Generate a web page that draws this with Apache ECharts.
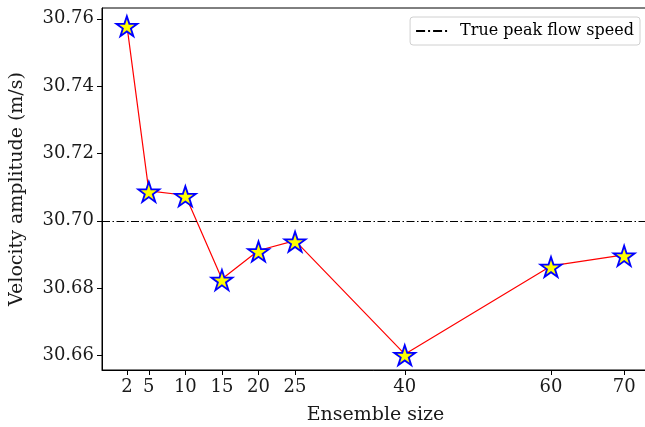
<!DOCTYPE html>
<html>
<head>
<meta charset="utf-8">
<script src="https://cdn.jsdelivr.net/npm/echarts@6/dist/echarts.min.js"></script>
<style>
  html, body { margin: 0; padding: 0; background: #fff; }
  #chart { width: 645px; height: 427px; }
</style>
</head>
<body>
<div id="chart"></div>
<script>
// 数据
var ensembleSizes = [2, 5, 10, 15, 20, 25, 40, 60, 70];
var velocityAmp = [30.7581, 30.7089, 30.7076, 30.6827, 30.6912, 30.6941, 30.6604, 30.6866, 30.6899];
var truePeak = 30.70;
var xTicks = [2, 5, 10, 15, 20, 25, 40, 60, 70];
var yTicks = [30.66, 30.68, 30.70, 30.72, 30.74, 30.76];

// 五角星路径
function starPath() {
    var pts = [];
    for (var i = 0; i < 10; i++) {
        var r = i % 2 === 0 ? 1 : 0.382;
        var a = Math.PI / 5 * i - Math.PI / 2;
        pts.push((r * Math.cos(a)).toFixed(4) + ',' + (r * Math.sin(a)).toFixed(4));
    }
    return 'path://M' + pts.join('L') + 'Z';
}

// 图例中的点划线图标
var dashDotIcon = 'path://M0,0h9v2h-9zM12,0h2v2h-2zM17,0h9v2h-9zM29,0h2v2h-2z';

var font = 'DejaVu Serif';
var myChart = echarts.init(document.getElementById('chart'));
var option = {
    backgroundColor: '#fff',
    animation: false,
    grid: {
        left: 102, right: -4, top: 8, bottom: 57,
        outerBoundsMode: 'none',
        containLabel: false,
        show: true, borderColor: '#000', borderWidth: 1
    },
    legend: {
        right: 5, top: 17,
        data: [{ name: 'True peak flow speed', icon: dashDotIcon }],
        itemWidth: 31, itemHeight: 2, itemGap: 0,
        padding: [6, 6, 6, 6],
        borderColor: '#d0d0d0', borderWidth: 1, borderRadius: 3,
        backgroundColor: '#fff',
        itemStyle: { color: '#000', borderWidth: 0 },
        textStyle: { fontFamily: font, fontSize: 16, color: '#000', padding: [0, 0, 0, 8] }
    },
    xAxis: {
        type: 'value',
        min: -1.4, max: 73.4,
        splitLine: { show: false },
        axisLine: { onZero: false, lineStyle: { color: '#000' } },
        axisTick: { customValues: xTicks, length: 5, lineStyle: { color: '#000' } },
        axisLabel: { customValues: xTicks, fontFamily: font, fontSize: 18, color: '#1a1a1a', margin: 8 },
        name: 'Ensemble size',
        nameLocation: 'middle',
        nameGap: 36,
        nameTextStyle: { fontFamily: font, fontSize: 19, color: '#1a1a1a' }
    },
    yAxis: {
        type: 'value',
        min: 30.6557, max: 30.7632,
        splitLine: { show: false },
        axisLine: { show: true, onZero: false, lineStyle: { color: '#000' } },
        axisTick: { show: true, customValues: yTicks, length: 5, lineStyle: { color: '#000' } },
        axisLabel: {
            customValues: yTicks, fontFamily: font, fontSize: 18, color: '#1a1a1a', margin: 8,
            formatter: function (v) { return v.toFixed(2); }
        },
        name: 'Velocity amplitude (m/s)',
        nameLocation: 'middle',
        nameGap: 75,
        nameTextStyle: { fontFamily: font, fontSize: 19, color: '#1a1a1a' }
    },
    series: [
        {
            type: 'line',
            data: ensembleSizes.map(function (x, i) { return [x, velocityAmp[i]]; }),
            symbol: starPath(),
            symbolSize: [21, 20],
            symbolOffset: [0, 1],
            itemStyle: { color: '#ffff00', borderColor: '#0000ff', borderWidth: 1.8 },
            lineStyle: { color: '#ff0000', width: 1.2 },
            z: 3
        },
        {
            name: 'True peak flow speed',
            type: 'line',
            data: [],
            symbol: 'none',
            color: '#000',
            lineStyle: { color: '#000', width: 1.2, type: [8, 2.5, 1.5, 2.5] },
            markLine: {
                silent: true,
                symbol: 'none',
                label: { show: false },
                lineStyle: { color: '#000', width: 1.2, type: [8, 2.5, 1.5, 2.5] },
                data: [{ yAxis: truePeak }]
            },
            z: 2
        }
    ]
};
myChart.setOption(option);
</script>
</body>
</html>
